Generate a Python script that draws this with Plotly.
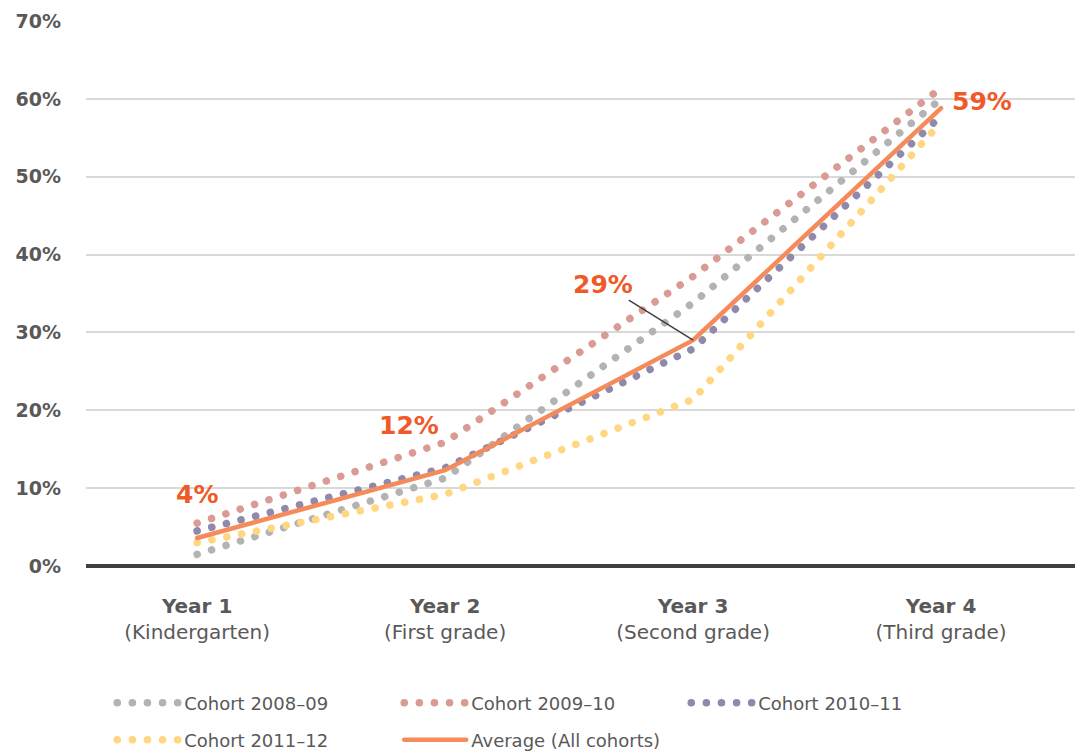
import plotly.graph_objects as go

years = [0, 1, 2, 3]
year_labels = ["<b>Year 1</b><br>(Kindergarten)", "<b>Year 2</b><br>(First grade)",
               "<b>Year 3</b><br>(Second grade)", "<b>Year 4</b><br>(Third grade)"]

cohort_2008 = [1.5, 11.3, 33.8, 60.0]
cohort_2009 = [5.5, 15.9, 37.2, 61.4]
cohort_2010 = [4.5, 12.6, 27.9, 57.8]
cohort_2011 = [3.0, 9.2, 21.4, 57.0]
average = [3.6, 12.3, 29.0, 58.8]
avg_labels = ["4%", "12%", "29%", "59%"]

FONT = "DejaVu Sans"
TXT = "#595959"
DOT = "0.1px,15px"

fig = go.Figure()
series = [
    ("Cohort 2008–09", cohort_2008, "#B3B3B3", "legend"),
    ("Cohort 2009–10", cohort_2009, "#DA9B94", "legend"),
    ("Cohort 2010–11", cohort_2010, "#8F8AAB", "legend"),
    ("Cohort 2011–12", cohort_2011, "#FFD783", "legend2"),
]
for name, vals, col, lg in series:
    fig.add_trace(go.Scatter(x=years, y=vals, mode="lines", name=name, legend=lg,
                             line=dict(color=col, width=7.5, dash=DOT)))
fig.add_trace(go.Scatter(x=years, y=average, mode="lines", name="Average (All cohorts)",
                         legend="legend2", line=dict(color="#F58B5A", width=4.5)))

# value labels
offsets = [(0, 43, False), (-36, 45, False), (-90, 56, True), (41, 7, False)]
for xv, yv, lab, (dx, dy, arrow) in zip(years, average, avg_labels, offsets):
    if arrow:
        fig.add_annotation(x=xv, y=yv, text=lab, showarrow=True, ax=dx, ay=-dy,
                           arrowhead=0, arrowwidth=1.5, arrowcolor="#404040", standoff=0,
                           font=dict(family=FONT, size=25, color="#F05A28", weight="bold"))
    else:
        fig.add_annotation(x=xv, y=yv, text=lab, showarrow=False, xshift=dx, yshift=dy,
                           font=dict(family=FONT, size=25, color="#F05A28", weight="bold"))

leg_common = dict(orientation="h", xref="container", yref="container", x=0.104,
                  yanchor="middle", xanchor="left", itemwidth=62, entrywidth=210,
                  entrywidthmode="pixels", font=dict(family=FONT, size=18, color=TXT),
                  bgcolor="rgba(0,0,0,0)")

fig.update_layout(
    width=1079, height=752,
    margin=dict(l=86, r=4, t=21, b=186, autoexpand=False),
    plot_bgcolor="white", paper_bgcolor="white",
    font=dict(family=FONT, color=TXT),
    xaxis=dict(range=[-0.448, 3.54], tickvals=years, ticktext=year_labels,
               showgrid=False, zeroline=False, showline=False, automargin=False,
               tickfont=dict(family=FONT, size=20, color=TXT), ticklabelstandoff=26),
    yaxis=dict(range=[0, 70], dtick=10, ticksuffix="%", showgrid=True,
               gridcolor="#D9D9D9", gridwidth=2, zeroline=True, zerolinecolor="#404040",
               zerolinewidth=4, showline=False, automargin=False,
               tickfont=dict(family=FONT, size=19, color=TXT, weight="bold"),
               ticklabelstandoff=24),
    legend=dict(y=0.065, **leg_common),
    legend2=dict(y=0.016, **leg_common),
)

post = """
document.body.style.margin='0';
document.querySelectorAll('path.js-line').forEach(function(p){
  p.setAttribute('stroke-linecap','round'); p.style.strokeLinecap='round';
});
"""
fig.write_html("out.html", post_script=post, config={"displayModeBar": False})
